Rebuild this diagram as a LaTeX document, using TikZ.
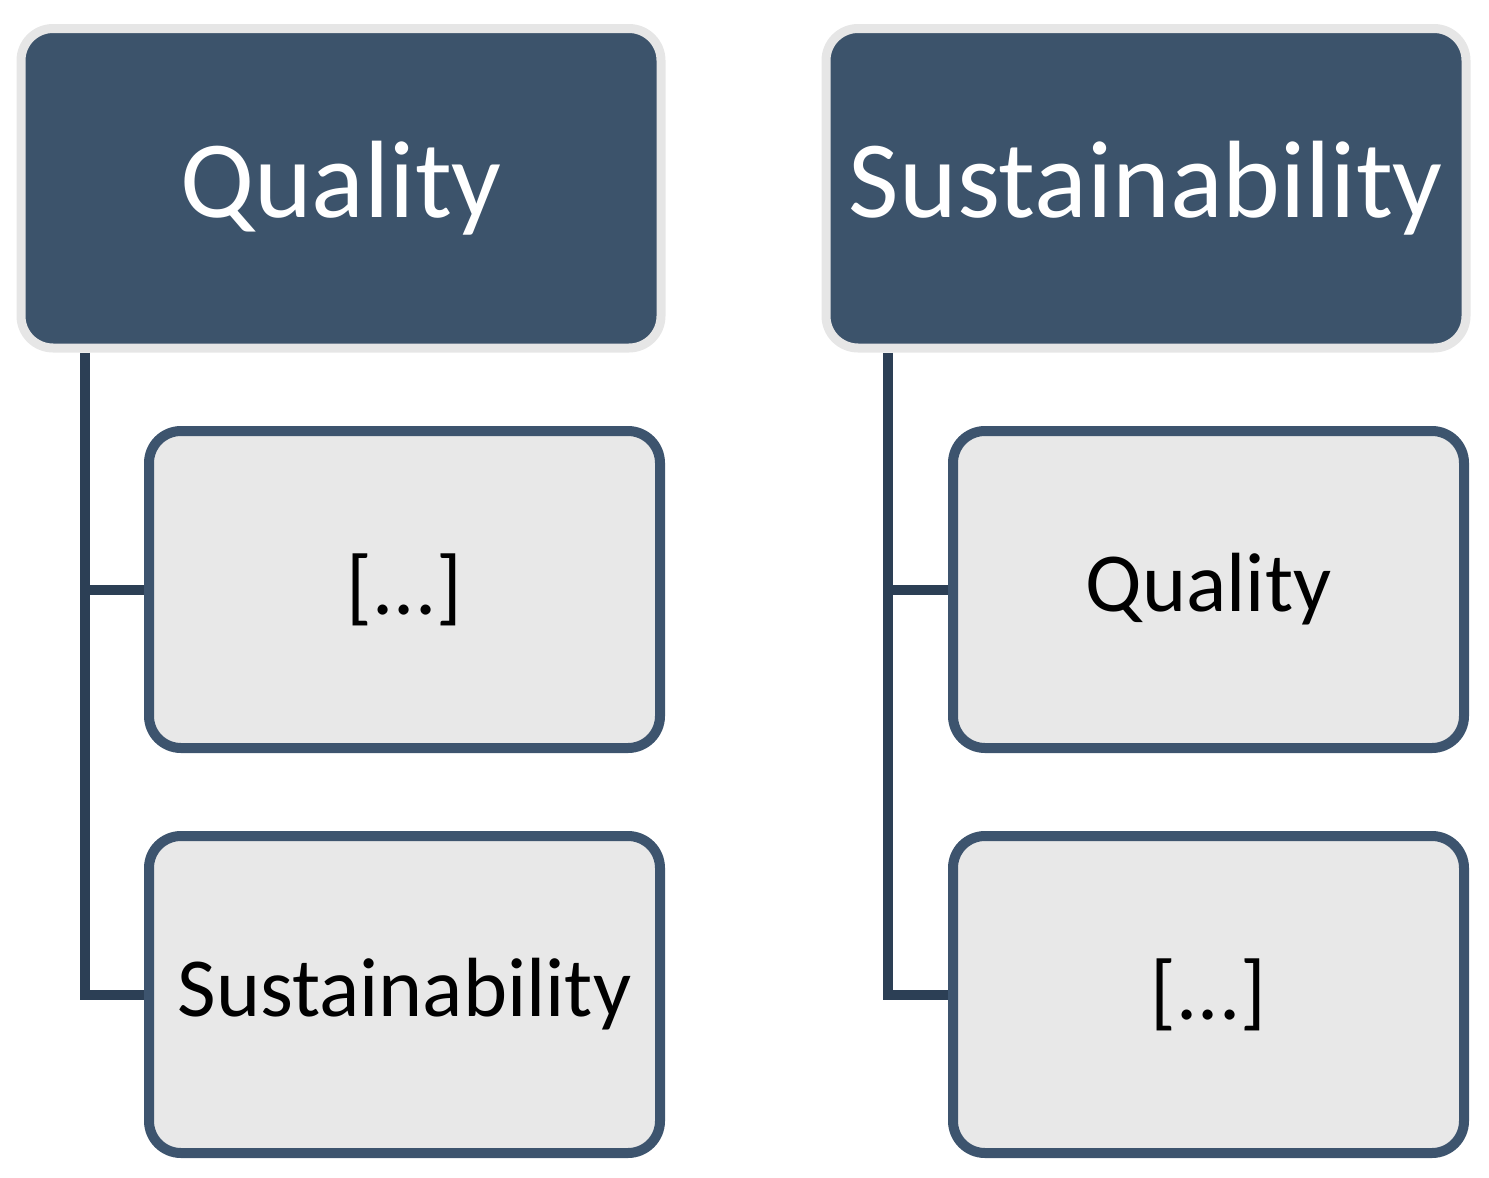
\documentclass[tikz,border=0pt]{standalone}
\usepackage{fontspec}
\setmainfont{Carlito}
\usetikzlibrary{backgrounds}
\definecolor{headfill}{HTML}{3C536B}
\definecolor{headborder}{HTML}{E6E6E6}
\definecolor{linkcol}{HTML}{2C3F55}
\definecolor{childborder}{HTML}{3D546E}
\definecolor{childfill}{HTML}{E8E8E8}
\tikzset{
  headbox/.style={draw=headborder, fill=headfill, line width=4.5pt, rounded corners=16pt,
    minimum width=320pt, minimum height=159.75pt, inner sep=0pt, text=white,
    font=\fontsize{55}{58}\selectfont},
  childbox/.style={draw=childborder, fill=childfill, line width=5pt, rounded corners=16pt,
    minimum width=255.5pt, minimum height=158.5pt, inner sep=0pt, text=black,
    font=\fontsize{42}{45}\selectfont},
  link/.style={draw=linkcol, line width=5pt},
}
\begin{document}
\begin{tikzpicture}[x=0.5pt,y=-0.5pt]
\useasboundingbox (0,0) rectangle (1489,1178);
% left column
\node[headbox] (lh) at (341,188.25) {Quality};
\node[childbox] (lc1) at (404.5,589.5) {[...]};
\node[childbox] (lc2) at (404.5,994.5) {Sustainability};
\coordinate (lroot) at ([xshift=34.25pt]lh.south west);
% right column
\node[headbox] (rh) at (1146,188.25) {Sustainability};
\node[childbox] (rc1) at (1208.5,589.5) {Quality};
\node[childbox] (rc2) at (1208.5,994.5) {[...]};
\coordinate (rroot) at ([xshift=33.25pt]rh.south west);
\begin{scope}[on background layer]
\draw[link] (lroot) |- (lc2.west);
\draw[link] (lc1.west) -| (lroot);
\draw[link] (rroot) |- (rc2.west);
\draw[link] (rc1.west) -| (rroot);
\end{scope}
\end{tikzpicture}
\end{document}
